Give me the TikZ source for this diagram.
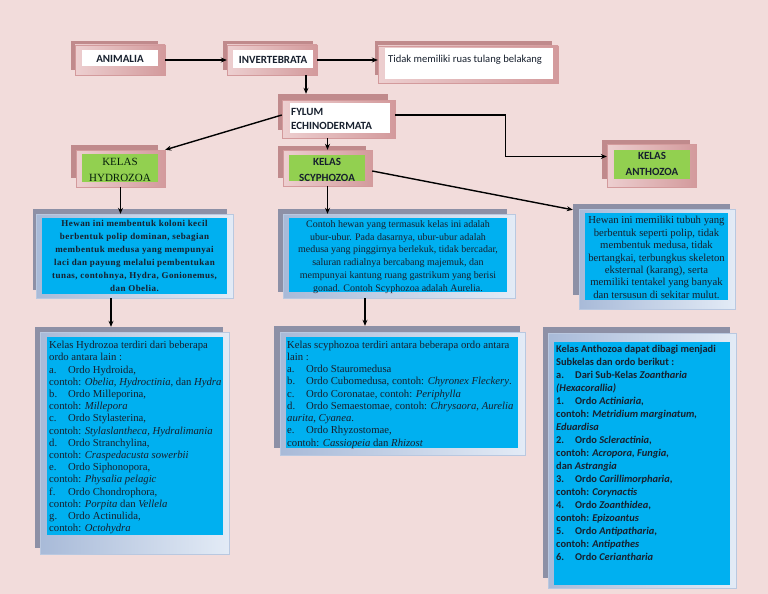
\documentclass[tikz,border=0pt]{standalone}
\usepackage{fontspec}
\setmainfont{Liberation Serif}
\newfontfamily\calibri{Carlito}
\newfontfamily\hydrofont{Liberation Serif}[LetterSpace=5]
\usetikzlibrary{arrows.meta,fit}

\definecolor{latar}{HTML}{F2DCDB}
\definecolor{mawar}{HTML}{C08A8C}
\definecolor{mawarmuda}{HTML}{EDCFD0}
\definecolor{mawartua}{HTML}{D39A9C}
\definecolor{hijau}{HTML}{92D050}
\definecolor{biru}{HTML}{00B0F0}
\definecolor{kelabu}{HTML}{8D90A6}
\definecolor{birutua}{HTML}{A8BAD8}
\definecolor{birumuda}{HTML}{E3EBF6}
\definecolor{teks}{HTML}{17202E}

\begin{document}
\begin{tikzpicture}[x=1pt,y=-1pt,
    kotak/.style={inner sep=0pt, fit={#1}},
    blkmerah/.style={kotak={#1}, fill=mawar},
    dpnmerah/.style={kotak={#1}, draw=mawartua, left color=mawarmuda, right color=mawartua},
    blkbiru/.style={kotak={#1}, fill=kelabu},
    dpnbiru/.style={kotak={#1}, draw=birutua!80, left color=birutua, right color=birumuda},
    putih/.style={kotak={#1}, fill=white},
    isihijau/.style={kotak={#1}, fill=hijau},
    isibiru/.style={kotak={#1}, fill=biru},
    tulisan/.style={text=teks, align=center, inner sep=0pt, yshift=-2pt},
    judul/.style={tulisan, font=\calibri\bfseries\fontsize{11}{16}\selectfont},
    uraian/.style={tulisan, yshift=0pt, font=\fontsize{10}{12.8}\selectfont},
    daftar/.style={text=teks, align=left, inner sep=0pt, anchor=north west, font=\fontsize{10.7}{12.2}\selectfont},
    panah/.style={-{Stealth[length=6pt,width=5pt]}, line width=1.4pt, black}
]
\useasboundingbox[fill=latar] (0,0) rectangle (768,594);

%baris atas
\node[blkmerah={(71,41)(158,70)}] (animalia-bg) {};
\node[dpnmerah={(75,45)(165,75)}] (animalia) {};
\node[putih={(82,50)(158,66)}] (animalia-isi) {};
\node[judul, yshift=1pt] (animalia-teks) at (animalia-isi) {ANIMALIA};

\node[blkmerah={(223,41)(313,70)}] (invertebrata-bg) {};
\node[dpnmerah={(227,45)(317,75)}] (invertebrata) {};
\node[putih={(233,50)(313,68)}] (invertebrata-isi) {};
\node[judul, yshift=1pt] (invertebrata-teks) at (invertebrata-isi) {INVERTEBRATA};

\node[blkmerah={(375,41)(552,75)}] (tidak-bg) {};
\node[dpnmerah={(378,46)(558,83)}] (tidak) {};
\node[putih={(385,48)(553,79)}] (tidak-isi) {};
\node[font=\calibri\fontsize{10.6}{12}\selectfont, text=teks, anchor=west, inner sep=0pt] (tidak-teks) at (388,59.5) {Tidak memiliki ruas tulang belakang};

%fylum
\node[blkmerah={(278,94)(388,130)}] (fylum-bg) {};
\node[dpnmerah={(282,100)(395,138)}] (fylum) {};
\node[putih={(290,103)(390,133)}] (fylum-isi) {};
\node[judul, font=\calibri\bfseries\fontsize{11}{14}\selectfont, align=left, anchor=west, yshift=0pt] (fylum-teks) at (291,117) {FYLUM\\ECHINODERMATA};

%kelas
\node[blkmerah={(71,145)(158,178)}] (hydrozoa-bg) {};
\node[dpnmerah={(76,150)(165,187)}] (hydrozoa) {};
\node[isihijau={(82,154)(158,182)}] (hydrozoa-isi) {};
\node[tulisan, font=\fontsize{11}{16}\selectfont, text=teks!70!green!30!black] (hydrozoa-teks) at (hydrozoa-isi) {KELAS\\HYDROZOA};

\node[blkmerah={(278,146)(366,178)}] (scyphozoa-bg) {};
\node[dpnmerah={(283,150)(372,186)}] (scyphozoa) {};
\node[isihijau={(289,155)(365,181)}] (scyphozoa-isi) {};
\node[judul] (scyphozoa-teks) at (scyphozoa-isi) {KELAS\\SCYPHOZOA};

\node[blkmerah={(602,140)(690,179)}] (anthozoa-bg) {};
\node[dpnmerah={(607,144)(696,187)}] (anthozoa) {};
\node[isihijau={(614,150)(690,179)}] (anthozoa-isi) {};
\node[judul, yshift=3pt] (anthozoa-teks) at (anthozoa-isi) {KELAS\\ANTHOZOA};

%uraian
\node[blkbiru={(33,209)(227,290)}] (hblue-bg) {};
\node[dpnbiru={(36,214)(233,298)}] (hblue) {};
\node[isibiru={(42,218)(227,294)}] (hblue-isi) {};
\node[uraian, yshift=2pt, font=\hydrofont\bfseries\fontsize{9}{12.9}\selectfont] (hblue-teks) at (hblue-isi)
    {Hewan ini membentuk koloni kecil\\berbentuk polip dominan, sebagian\\membentuk medusa yang mempunyai\\laci dan payung melalui pembentukan\\tunas, contohnya, Hydra, Gonionemus,\\dan Obelia.};

\node[blkbiru={(278,209)(507,292)}] (sblue-bg) {};
\node[dpnbiru={(283,214)(515,298)}] (sblue) {};
\node[isibiru={(289,218)(507,292)}] (sblue-isi) {};
\node[uraian] (sblue-teks) at (sblue-isi)
    {Contoh hewan yang termasuk kelas ini adalah\\ubur-ubur. Pada dasarnya, ubur-ubur adalah\\medusa yang pinggirnya berlekuk, tidak bercadar,\\saluran radialnya bercabang majemuk, dan\\mempunyai kantung ruang gastrikum yang berisi\\gonad. Contoh Scyphozoa adalah Aurelia.};

\node[blkbiru={(573,204)(730,295)}] (ablue-bg) {};
\node[dpnbiru={(579,209)(735,309)}] (ablue) {};
\node[isibiru={(585,213)(728,300)}] (ablue-isi) {};
\node[uraian, yshift=1pt, font=\fontsize{10.7}{12.4}\selectfont] (ablue-teks) at (ablue-isi)
    {Hewan ini memiliki tubuh yang\\berbentuk seperti polip, tidak\\membentuk medusa, tidak\\bertangkai, terbungkus skeleton\\eksternal (karang), serta\\memiliki tentakel yang banyak\\dan tersusun di sekitar mulut.};

%daftar ordo
\node[blkbiru={(35,327)(223,548)}] (hlist-bg) {};
\node[dpnbiru={(40,332)(229,554)}] (hlist) {};
\node[isibiru={(47,337)(223,535)}] (hlist-isi) {};
\node[daftar] (hlist-teks) at (49,341) {Kelas Hydrozoa terdiri dari beberapa\\ordo antara lain :\\
    \makebox[19pt][l]{a.}Ordo Hydroida,\\contoh: \textit{Obelia}, \textit{Hydroctinia}, dan \textit{Hydra}\\
    \makebox[19pt][l]{b.}Ordo Milleporina,\\contoh: \textit{Millepora}\\
    \makebox[19pt][l]{c.}Ordo Stylasterina,\\contoh: \textit{Stylaslantheca, Hydralimania}\\
    \makebox[19pt][l]{d.}Ordo Stranchylina,\\contoh: \textit{Craspedacusta sowerbii}\\
    \makebox[19pt][l]{e.}Ordo Siphonopora,\\contoh: \textit{Physalia pelagic}\\
    \makebox[19pt][l]{f.}Ordo Chondrophora,\\contoh: \textit{Porpita} dan \textit{Vellela}\\
    \makebox[19pt][l]{g.}Ordo Actinulida,\\contoh: \textit{Octohydra}};

\node[blkbiru={(274,326)(520,448)}] (slist-bg) {};
\node[dpnbiru={(280,332)(525,455)}] (slist) {};
\node[isibiru={(286,337)(518,448)}] (slist-isi) {};
\node[daftar, font=\fontsize{10.7}{12.25}\selectfont] (slist-teks) at (287,340.5) {Kelas scyphozoa terdiri antara beberapa ordo antara\\lain :\\
    \makebox[19pt][l]{a.}Ordo Stauromedusa\\
    \makebox[19pt][l]{b.}Ordo Cubomedusa, contoh: \textit{Chyronex Fleckery}.\\
    \makebox[19pt][l]{c.}Ordo Coronatae, contoh: \textit{Periphylla}\\
    \makebox[19pt][l]{d.}Ordo Semaestomae, contoh: \textit{Chrysaora}, \textit{Aurelia}\\\textit{aurita}, \textit{Cyanea}.\\
    \makebox[19pt][l]{e.}Ordo Rhyzostomae,\\contoh: \textit{Cassiopeia} dan \textit{Rhizost}};

\node[blkbiru={(543,327)(730,578)}] (alist-bg) {};
\node[dpnbiru={(548,333)(736,588)}] (alist) {};
\node[isibiru={(554,342)(730,585)}] (alist-isi) {};
\node[daftar, font=\calibri\bfseries\fontsize{10.4}{13}\selectfont] (alist-teks) at (556,345) {Kelas Anthozoa dapat dibagi menjadi\\Subkelas dan ordo berikut :\\
    \makebox[19pt][l]{a.}Dari Sub-Kelas \textit{Zoantharia}\\\textit{(Hexacorallia)}\\
    \makebox[19pt][l]{1.}Ordo \textit{Actiniaria},\\contoh: \textit{Metridium marginatum,}\\\textit{Eduardisa}\\
    \makebox[19pt][l]{2.}Ordo \textit{Scleractinia},\\contoh: \textit{Acropora, Fungia,}\\dan \textit{Astrangia}\\
    \makebox[19pt][l]{3.}Ordo \textit{Carillimorpharia},\\contoh: \textit{Corynactis}\\
    \makebox[19pt][l]{4.}Ordo \textit{Zoanthidea},\\contoh: \textit{Epizoantus}\\
    \makebox[19pt][l]{5.}Ordo \textit{Antipatharia},\\contoh: \textit{Antipathes}\\
    \makebox[19pt][l]{6.}Ordo \textit{Ceriantharia}};

%panah
\draw[panah] (animalia.east) -- (invertebrata.west);
\draw[panah] (invertebrata.east) -- (tidak.west |- invertebrata.east);
\draw[panah] ([xshift=34pt]invertebrata.south) -- ([xshift=-27pt]fylum-bg.north);
\draw[panah] ([yshift=4pt]fylum.west) -- (hydrozoa.north east);
\draw[panah] (scyphozoa.north |- fylum.south) -- (scyphozoa.north);
\draw[panah] ([yshift=4pt]fylum.east) -- ++(110,0) |- ([yshift=9pt]anthozoa.west);
\draw[panah] (hydrozoa.south) -- (hydrozoa.south |- hblue.north);
\draw[panah] (scyphozoa.south) -- (scyphozoa.south |- sblue.north);
\draw[panah] ([yshift=-3pt]scyphozoa.east) -- ([yshift=-6pt]ablue-bg.north west);
\draw[panah] ([xshift=-23.5pt]hblue.south) -- ([xshift=-23.5pt]hblue.south |- hlist-bg.north);
\draw[panah] ([xshift=-34pt]sblue.south) -- ([xshift=-34pt]sblue.south |- slist-bg.north);
\end{tikzpicture}
\end{document}
